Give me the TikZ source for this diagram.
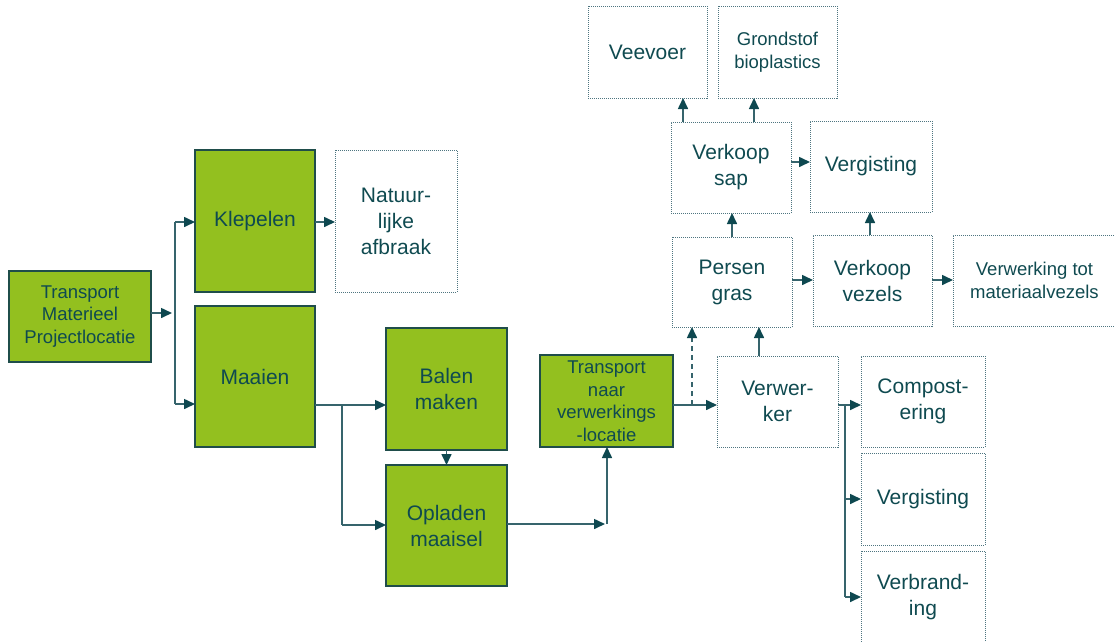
\documentclass[tikz,border=0pt]{standalone}
\usepackage{fontspec}
\setmainfont{Liberation Sans}
\usetikzlibrary{arrows.meta}
\definecolor{grn}{HTML}{93C01F}
\definecolor{edgec}{HTML}{1F4D4A}
\definecolor{txt}{HTML}{0F4A50}
\definecolor{lnc}{HTML}{36646C}
\definecolor{headc}{HTML}{0E4850}
\definecolor{dotc}{HTML}{4E7580}
\begin{document}
\begin{tikzpicture}[x=1pt,y=-1pt,
  gbox/.style={draw=edgec, fill=grn, line width=1.2pt, text=txt, inner sep=0pt, outer sep=0pt, align=center},
  dbox/.style={draw=dotc, dash pattern=on 1pt off 1pt, line width=1pt, text=txt, inner sep=0pt, outer sep=0pt, align=center},
  big/.style={font=\fontsize{21}{26}\selectfont},
  small/.style={font=\fontsize{18.5}{22.5}\selectfont},
  sz/.style 2 args={minimum width=#1pt, minimum height=#2pt},
  arr/.style={draw=lnc, line width=1.6pt, -{Triangle[length=11pt,width=10pt,color=headc]}},
  plain/.style={draw=lnc, line width=1.6pt},
  darr/.style={draw=lnc, line width=1.6pt, dash pattern=on 5pt off 4pt, -{Triangle[length=11pt,width=10pt,color=headc]}}
]
\useasboundingbox (0,0) rectangle (1114,641);

% green process boxes
\node[gbox, small, sz={142}{91}] (tmp) at (80,316.5) {Transport\\Materieel\\Projectlocatie};
\node[gbox, big, sz={120}{142}] (klep) at (255,221) {Klepelen};
\node[gbox, big, sz={120}{141}] (maai) at (255,376.5) {Maaien};
\node[gbox, big, sz={121}{122}] (balen) at (446.5,389) {Balen\\maken};
\node[gbox, big, sz={121}{121}] (opl) at (446.5,525.5) {Opladen\\maaisel};
\node[gbox, small, sz={133}{92}] (tnaar) at (606.5,401) {Transport\\naar\\verwerkings\\-locatie};

% dotted boxes
\node[dbox, big, sz={122}{142}] (nat) at (396,221) {Natuur-\\lijke\\afbraak};
\node[dbox, big, sz={121}{91}] (verw) at (777.5,401.5) {Verwer-\\ker};
\node[dbox, big, sz={124}{91}] (comp) at (923,401.5) {Compost-\\ering};
\node[dbox, big, sz={124}{92}] (verg2) at (923,499) {Vergisting};
\node[dbox, big, sz={124}{92}] (verb) at (923,597) {Verbrand-\\ing};
\node[dbox, big, sz={119}{92}] (veev) at (647.5,52) {Veevoer};
\node[dbox, small, sz={119}{92}] (grond) at (777.5,52) {Grondstof\\bioplastics};
\node[dbox, big, sz={120}{91}] (vsap) at (731,167.5) {Verkoop\\sap};
\node[dbox, big, sz={122}{91}] (verg1) at (871,166.5) {Vergisting};
\node[dbox, big, sz={120}{90}] (pers) at (732,282) {Persen\\gras};
\node[dbox, big, sz={119}{91}] (vvez) at (872.5,280.5) {Verkoop\\vezels};
\node[dbox, small, sz={163}{91}] (mat) at (1034.5,280.5) {Verwerking tot\\materiaalvezels};

% junction coordinates
\coordinate (j1) at (172,313);
\coordinate (j1t) at (175,222);
\coordinate (j1b) at (175,404);
\coordinate (j2) at (342,405);
\coordinate (j2b) at (342,525);
\coordinate (j3) at (605,524);
\coordinate (j3v) at (607,524);
\coordinate (j4) at (692,405);
\coordinate (j5) at (845,405);
\coordinate (j5m) at (845,499);
\coordinate (j5b) at (845,597);

% connectors
\draw[arr] (tmp.east |- j1) -- (j1);
\draw[plain] (j1t) -- (j1b);
\draw[arr] (j1t) -- (klep.west |- j1t);
\draw[arr] (j1b) -- (maai.west |- j1b);
\draw[arr] (klep.east |- j1t) -- (nat.west |- j1t);

\draw[arr] (maai.east |- j2) -- (balen.west |- j2);
\draw[plain] (j2) -- (j2b);
\draw[arr] (j2b) -- (opl.west |- j2b);
\draw[arr] (balen.south) -- (opl.north);

\draw[arr] (opl.east |- j3) -- (j3);
\draw[arr] (j3v) -- (tnaar.south -| j3v);

\draw[arr] (tnaar.east |- j4) -- (verw.west |- j4);
\draw[darr] (j4) -- (pers.south -| j4);
\draw[arr] (verw.north -| 759,0) -- (pers.south -| 759,0);

\draw[plain] (verw.east |- j5) -- (j5);
\draw[arr] (j5) -- (comp.west |- j5);
\draw[plain] (j5) -- (j5b);
\draw[arr] (j5m) -- (verg2.west |- j5m);
\draw[arr] (j5b) -- (verb.west |- j5b);

\draw[arr] (pers.north -| 732,0) -- (vsap.south -| 732,0);
\draw[arr] (pers.east |- 0,280) -- (vvez.west |- 0,280);
\draw[arr] (vvez.north -| 870,0) -- (verg1.south -| 870,0);
\draw[arr] (vvez.east |- 0,280) -- (mat.west |- 0,280);
\draw[arr] (vsap.east |- 0,162) -- (verg1.west |- 0,162);
\draw[arr] (vsap.north -| 683,0) -- (veev.south -| 683,0);
\draw[arr] (vsap.north -| 754,0) -- (grond.south -| 754,0);
\end{tikzpicture}
\end{document}
